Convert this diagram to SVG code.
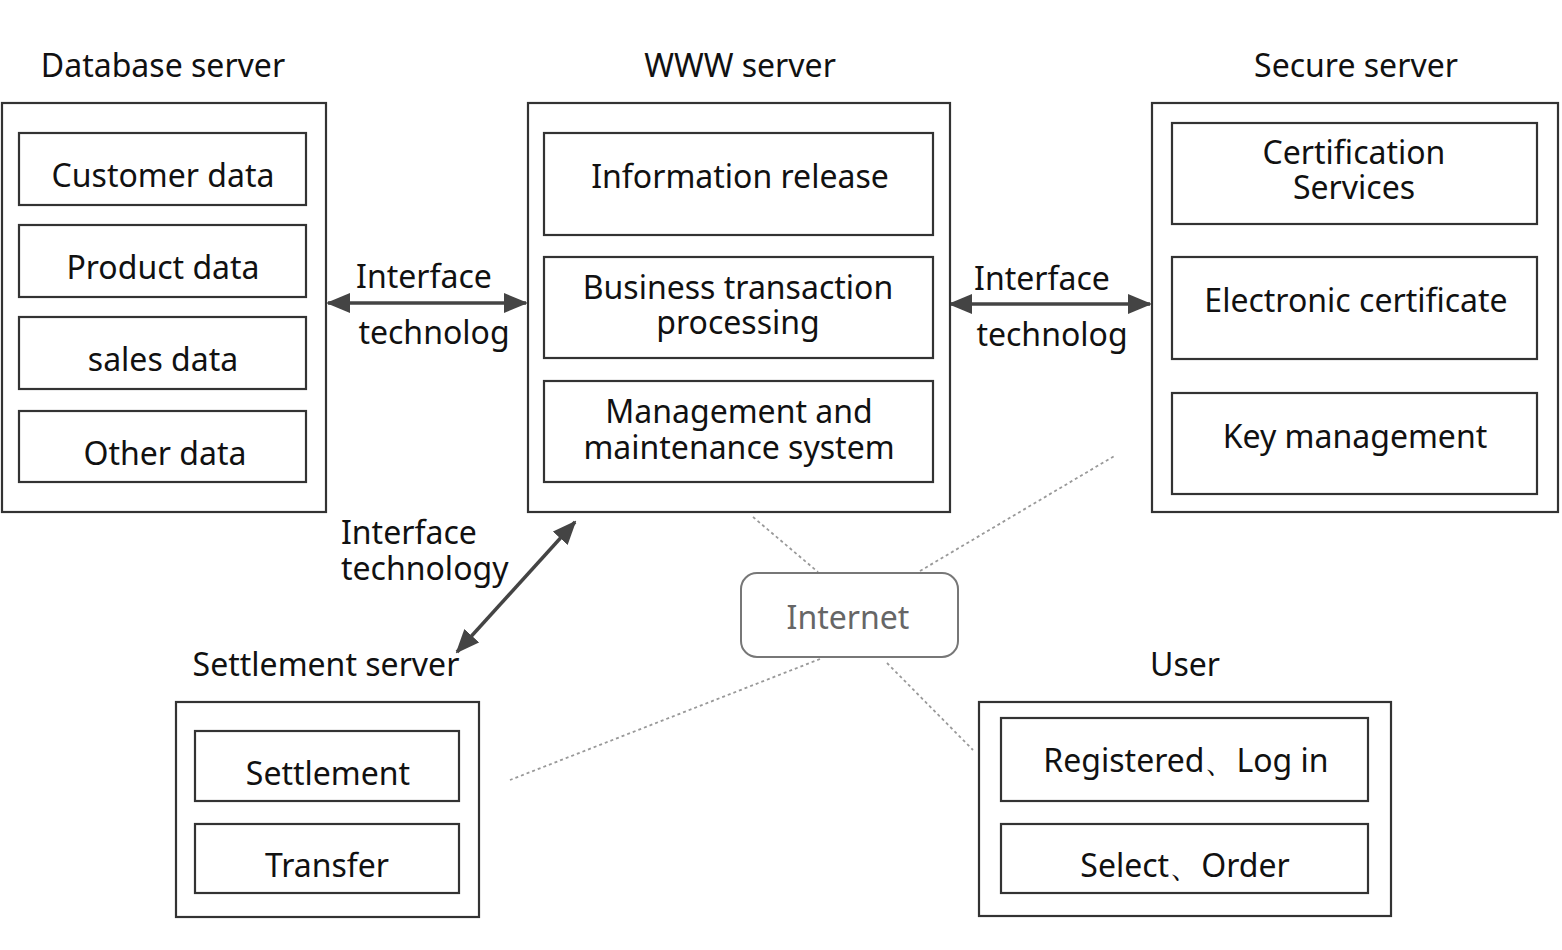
<svg xmlns="http://www.w3.org/2000/svg" width="1562" height="950" viewBox="0 0 1562 950">
<defs>
<style>
text{font-family:"Noto Sans","Open Sans","DejaVu Sans",sans-serif;font-size:32px;fill:#111;text-anchor:middle}
.box{fill:#fff;stroke:#333;stroke-width:2.2}
.inet{fill:#fff;stroke:#777;stroke-width:2}
.inett{fill:#666}
.arr{stroke:#444;stroke-width:3.5;fill:none;marker-start:url(#ah);marker-end:url(#ah)}
.dot{stroke:#999;stroke-width:1.8;stroke-dasharray:3 3;fill:none}
</style>
<marker id="ah" viewBox="0 0 24 20" refX="22" refY="10" markerWidth="24" markerHeight="20" markerUnits="userSpaceOnUse" orient="auto-start-reverse">
<path d="M0,0 L24,10 L0,20 Z" fill="#444"/>
</marker>
</defs>
<rect width="1562" height="950" fill="#fff"/>

<g id="connectors">
<line class="dot" x1="753" y1="517" x2="818" y2="572"/>
<line class="dot" x1="920" y1="571" x2="1116" y2="455"/>
<line class="dot" x1="820" y1="659" x2="510" y2="780"/>
<line class="dot" x1="887" y1="663" x2="973" y2="750"/>
<line class="arr" x1="328" y1="303" x2="526" y2="303"/>
<line class="arr" x1="950" y1="304" x2="1150" y2="304"/>
<line class="arr" x1="575" y1="522" x2="457" y2="652"/>
<text x="424" y="288">Interface</text>
<text x="434" y="344">technolog</text>
<text x="1042" y="290">Interface</text>
<text x="1052" y="346">technolog</text>
<text x="341" y="544" style="text-anchor:start">Interface</text>
<text x="341" y="580" style="text-anchor:start">technology</text>
</g>

<g id="database-server">
<text x="163" y="77">Database server</text>
<rect class="box" x="2" y="103" width="324" height="409"/>
<rect class="box" x="19" y="133" width="287" height="72"/>
<text x="163" y="187">Customer data</text>
<rect class="box" x="19" y="225" width="287" height="72"/>
<text x="163" y="279">Product data</text>
<rect class="box" x="19" y="317" width="287" height="72"/>
<text x="163" y="371">sales data</text>
<rect class="box" x="19" y="411" width="287" height="71"/>
<text x="165" y="465">Other data</text>
</g>

<g id="www-server">
<text x="740" y="77">WWW server</text>
<rect class="box" x="528" y="103" width="422" height="409"/>
<rect class="box" x="544" y="133" width="389" height="102"/>
<text x="740" y="188">Information release</text>
<rect class="box" x="544" y="257" width="389" height="101"/>
<text x="738" y="299">Business transaction</text>
<text x="738" y="334">processing</text>
<rect class="box" x="544" y="381" width="389" height="101"/>
<text x="739" y="423">Management and</text>
<text x="739" y="459">maintenance system</text>
</g>

<g id="secure-server">
<text x="1356" y="77">Secure server</text>
<rect class="box" x="1152" y="103" width="406" height="409"/>
<rect class="box" x="1172" y="123" width="365" height="101"/>
<text x="1354" y="164">Certification</text>
<text x="1354" y="199">Services</text>
<rect class="box" x="1172" y="257" width="365" height="102"/>
<text x="1356" y="312">Electronic certificate</text>
<rect class="box" x="1172" y="393" width="365" height="101"/>
<text x="1355" y="448">Key management</text>
</g>

<g id="internet">
<rect class="inet" x="741" y="573" width="217" height="84" rx="16"/>
<text class="inett" x="848" y="629">Internet</text>
</g>

<g id="settlement-server">
<text x="326" y="676">Settlement server</text>
<rect class="box" x="176" y="702" width="303" height="215"/>
<rect class="box" x="195" y="731" width="264" height="70"/>
<text x="328" y="785">Settlement</text>
<rect class="box" x="195" y="824" width="264" height="69"/>
<text x="327" y="877">Transfer</text>
</g>

<g id="user">
<text x="1185" y="676">User</text>
<rect class="box" x="979" y="702" width="412" height="214"/>
<rect class="box" x="1001" y="718" width="367" height="83"/>
<text x="1186" y="772">Registered、Log in</text>
<rect class="box" x="1001" y="824" width="367" height="69"/>
<text x="1185" y="877">Select、Order</text>
</g>
</svg>
